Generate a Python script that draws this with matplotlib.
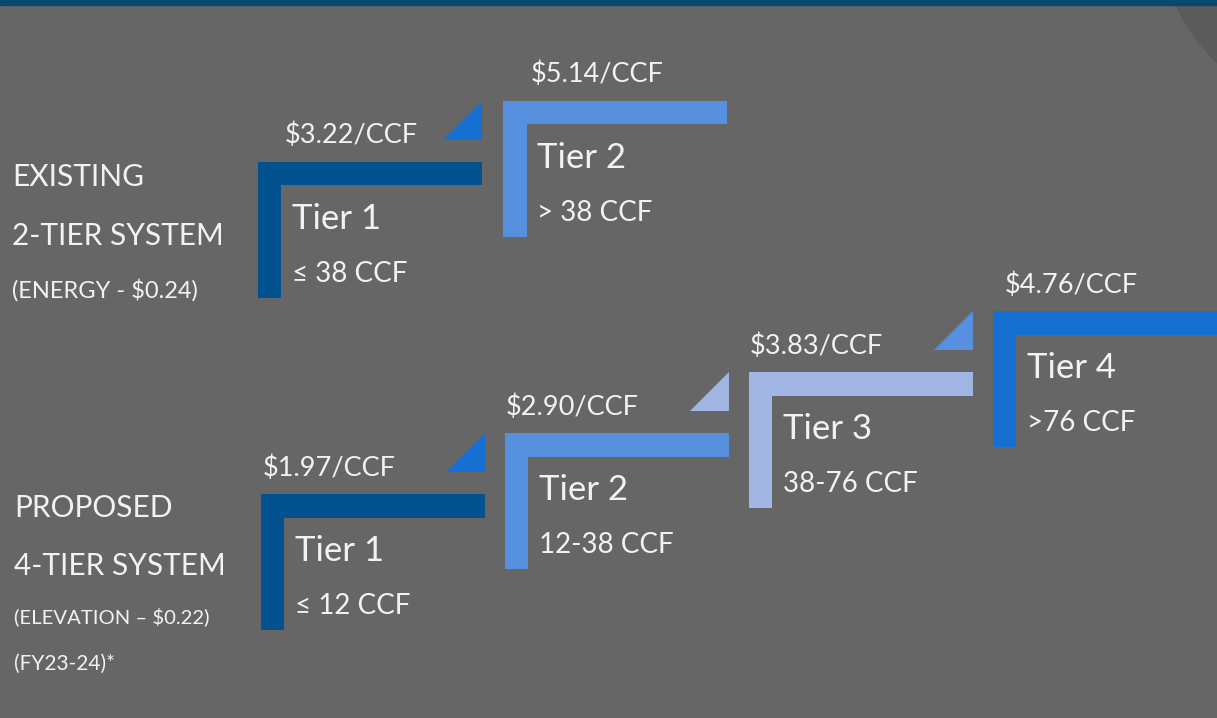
import matplotlib
matplotlib.use("Agg")
import matplotlib.pyplot as plt
from matplotlib.patches import Polygon, Rectangle

# ---- data ----
existing_tiers = ["Tier 1", "Tier 2"]
existing_rates = [3.22, 5.14]
existing_ranges = ["≤ 38 CCF", "> 38 CCF"]

proposed_tiers = ["Tier 1", "Tier 2", "Tier 3", "Tier 4"]
proposed_rates = [1.97, 2.90, 3.83, 4.76]
proposed_ranges = ["≤ 12 CCF", "12-38 CCF", "38-76 CCF", ">76 CCF"]

existing_title = ["EXISTING", "2-TIER SYSTEM", "(ENERGY - $0.24)"]
proposed_title = ["PROPOSED", "4-TIER SYSTEM", "(ELEVATION – $0.22)", "(FY23-24)*"]

# ---- styles ----
BG = "#666666"
TXT = "#F2F2F2"
TIER_COLORS = ["#02528F", "#5790DE", "#A1B6E2", "#1570D2"]
FONT = ["Lato", "DejaVu Sans"]

W, H = 1217, 718
fig = plt.figure(figsize=(W / 100, H / 100), dpi=100)
fig.patch.set_facecolor(BG)
ax = fig.add_axes([0, 0, 1, 1])
ax.set_xlim(0, W)
ax.set_ylim(H, 0)
ax.axis("off")
ax.set_facecolor(BG)

# top band and corner decoration
ax.add_patch(Rectangle((0, 0), W, 5, color="#0B4672", zorder=3))
ax.add_patch(Polygon([(1175, 5), (1183, 20), (1191, 33), (1200, 45), (1209, 55), (1217, 64), (1217, 5)],
                     closed=True, color="#5B5B5B", lw=0, zorder=1))

BAR_W, THICK, VERT_H = 224, 23.5, 136
TRI = 39


def bracket(x0, y0, color):
    pts = [(x0, y0), (x0 + BAR_W, y0), (x0 + BAR_W, y0 + THICK),
           (x0 + THICK, y0 + THICK), (x0 + THICK, y0 + VERT_H), (x0, y0 + VERT_H)]
    ax.add_patch(Polygon(pts, closed=True, color=color, lw=0, zorder=2))


def triangle(x_right, y_top, color):
    pts = [(x_right - TRI, y_top + TRI), (x_right, y_top + TRI), (x_right, y_top)]
    ax.add_patch(Polygon(pts, closed=True, color=color, lw=0, zorder=2))


def staircase(tiers, rates, ranges, origin, dx, dy, price_dx, tri_colors):
    ox, oy = origin
    for i, (t, r, rg) in enumerate(zip(tiers, rates, ranges)):
        x0, y0 = ox + i * dx, oy + i * dy
        bracket(x0, y0, TIER_COLORS[i])
        if i + 1 < len(tiers):
            triangle(x0 + BAR_W, y0 + dy, tri_colors[i])
        ax.text(x0 + price_dx[i], y0 - 26, f"${r:.2f}/CCF", color=TXT, fontsize=19.5,
                family=FONT, va="center", ha="left", zorder=4)
        ax.text(x0 + 34, y0 + 57, t, color=TXT, fontsize=25, family=FONT,
                va="center", ha="left", zorder=4)
        ax.text(x0 + 34, y0 + 112, rg, color=TXT, fontsize=20, family=FONT,
                va="center", ha="left", zorder=4)


staircase(existing_tiers, existing_rates, existing_ranges, (257.7, 161.7), 245.6, -61,
          [27, 27], ["#1570D2"])
staircase(proposed_tiers, proposed_rates, proposed_ranges, (260.7, 494), 244, -61,
          [2, 1, 1, 12], ["#1570D2", "#A1B6E2", "#5790DE"])

# left titles
for txt, y, fs in zip(existing_title, [177, 236, 290], [21.5, 21.5, 17]):
    ax.text(12, y, txt, color=TXT, fontsize=fs, family=FONT, va="center", ha="left")
for txt, y, fs in zip(proposed_title, [508, 566, 617, 664], [21.5, 21.5, 14.6, 15]):
    ax.text(14, y, txt, color=TXT, fontsize=fs, family=FONT, va="center", ha="left")

fig.savefig("out.png", dpi=100, facecolor=BG)
